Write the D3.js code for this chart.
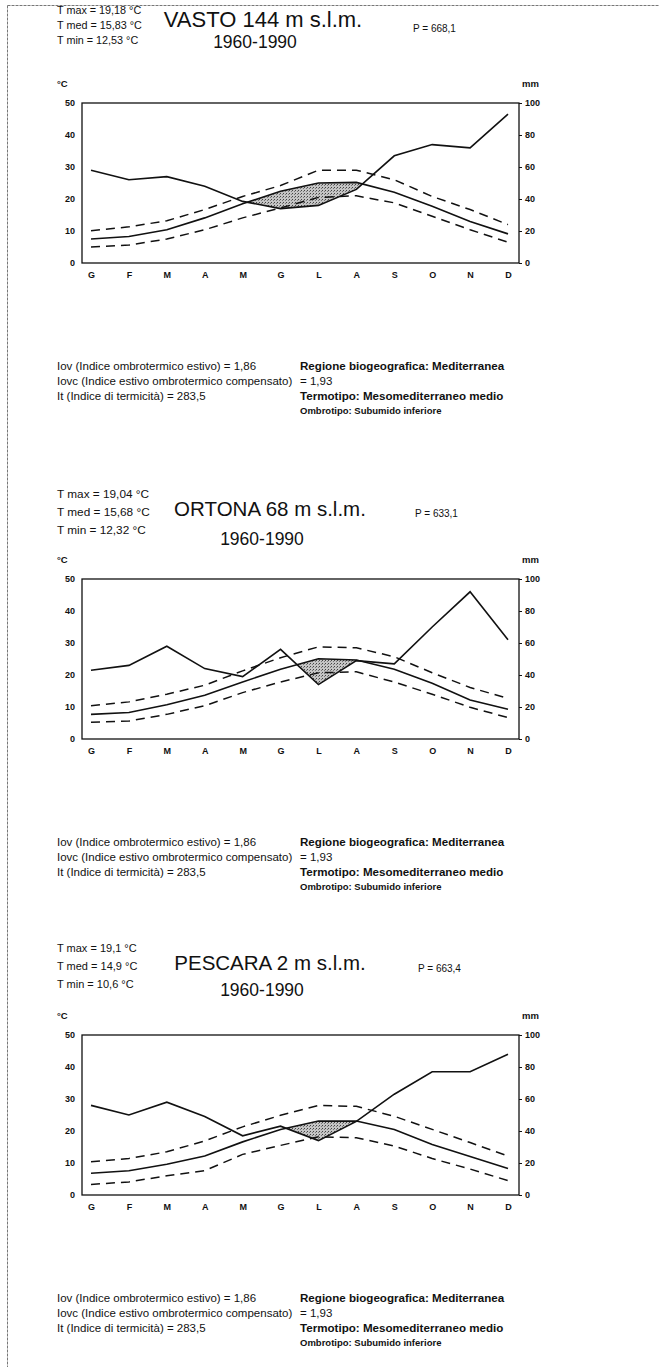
<!DOCTYPE html>
<html>
<head>
<meta charset="utf-8">
<script src="https://cdn.jsdelivr.net/npm/d3@7"></script>
<style>
  html, body { margin: 0; padding: 0; background: #fff; }
  svg { display: block; }
  text { font-family: "Liberation Sans", Arial, sans-serif; fill: #111; }
</style>
</head>
<body>
<svg id="page" width="659" height="1367"></svg>
<script>
// Month initials (Italian)
const months = ["G", "F", "M", "A", "M", "G", "L", "A", "S", "O", "N", "D"];
const tempTicks = [0, 10, 20, 30, 40, 50];
const precTicks = [0, 20, 40, 60, 80, 100];

// VASTO 144 m s.l.m. — monthly means 1960-1990
const vastoPrec = [58, 52, 54, 48, 38.5, 34, 36, 46, 67, 74, 72, 93];     // mm
const vastoTmax = [10.1, 11.3, 13.2, 16.7, 20.8, 24.2, 29, 29, 26, 20.8, 16.7, 12];
const vastoTmed = [7.5, 8.3, 10.4, 14.1, 18.5, 22.4, 25, 25.2, 22.1, 17.7, 13, 9.1];
const vastoTmin = [5, 5.6, 7.5, 10.4, 14.1, 17.2, 20.5, 21, 18.8, 14.6, 10.4, 6.5];

// ORTONA 68 m s.l.m.
const ortonaPrec = [43, 46, 58, 44, 39, 56, 34, 49, 47, 70, 92, 62];
const ortonaTmax = [10.4, 11.6, 14, 16.8, 21.3, 25.4, 28.8, 28.5, 25.7, 20.7, 16.1, 12.7];
const ortonaTmed = [7.7, 8.3, 10.7, 13.7, 17.8, 21.8, 25.1, 24.7, 21.8, 17.4, 12.2, 9.3];
const ortonaTmin = [5.2, 5.6, 7.7, 10.4, 14.5, 17.8, 20.7, 21, 17.8, 14, 9.9, 6.7];

// PESCARA 2 m s.l.m.
const pescaraPrec = [56, 50, 58, 49, 37, 43, 34, 46, 63, 77, 77, 88];
const pescaraTmax = [10.4, 11.4, 13.5, 16.9, 21.3, 24.9, 28, 27.7, 24.6, 20.5, 16.4, 12.2];
const pescaraTmed = [6.8, 7.6, 9.6, 12.2, 16.6, 20.5, 23.1, 23.1, 20.5, 15.8, 12, 8.3];
const pescaraTmin = [3.3, 4.1, 6, 7.6, 12.7, 15.5, 18.2, 17.9, 15.3, 11.4, 8.1, 4.5];

// Header and index texts
const vastoInfo = { title: "VASTO 144 m s.l.m.", tmax: "T max = 19,18 °C", tmed: "T med = 15,83 °C", tmin: "T min = 12,53 °C", p: "P = 668,1" };
const ortonaInfo = { title: "ORTONA 68 m s.l.m.", tmax: "T max = 19,04 °C", tmed: "T med = 15,68 °C", tmin: "T min = 12,32 °C", p: "P = 633,1" };
const pescaraInfo = { title: "PESCARA 2 m s.l.m.", tmax: "T max = 19,1 °C", tmed: "T med = 14,9 °C", tmin: "T min = 10,6 °C", p: "P = 663,4" };
const period = "1960-1990";
const footLeft = [
  "Iov (Indice ombrotermico estivo) = 1,86",
  "Iovc (Indice estivo ombrotermico compensato)",
  "It (Indice di termicità) = 283,5"
];
const footRight = [
  "Regione biogeografica: Mediterranea",
  "= 1,93",
  "Termotipo: Mesomediterraneo medio",
  "Ombrotipo: Subumido inferiore"
];

const svg = d3.select("#page");

// stipple pattern for the dry season
const defs = svg.append("defs");
const pat = defs.append("pattern").attr("id", "stipple")
  .attr("width", 3).attr("height", 3).attr("patternUnits", "userSpaceOnUse");
pat.append("rect").attr("width", 3).attr("height", 3).attr("fill", "#c4c4c4");
pat.append("rect").attr("x", 0).attr("y", 0).attr("width", 1).attr("height", 1).attr("fill", "#444");
pat.append("rect").attr("x", 2).attr("y", 1).attr("width", 1).attr("height", 1).attr("fill", "#777");

// page frame (left and top rule)
svg.append("line").attr("x1", 7.5).attr("x2", 659).attr("y1", 5.5).attr("y2", 5.5)
  .attr("stroke", "#777").attr("stroke-width", 1).attr("stroke-dasharray", "3,1");
svg.append("line").attr("x1", 7.5).attr("x2", 7.5).attr("y1", 5.5).attr("y2", 1367)
  .attr("stroke", "#777").attr("stroke-width", 1).attr("stroke-dasharray", "3,1");

const FW = 437, FH = 160;   // plot frame size

function drawStation(info, prec, tmax, tmed, tmin, layout) {
  const g = svg.append("g").attr("transform", `translate(82,${layout.top})`);

  const x = d3.scaleLinear().domain([0, 11]).range([9, 426]);
  const yT = d3.scaleLinear().domain([0, 50]).range([FH, 0]);
  const yP = d3.scaleLinear().domain([0, 100]).range([FH, 0]);

  // header
  const hd = svg.append("g").attr("transform", `translate(0,${layout.top})`);
  const h = layout.h1, sp = layout.sp, fs = layout.fs;
  hd.append("text").attr("x", 57).attr("y", h).attr("font-size", fs).text(info.tmax);
  hd.append("text").attr("x", 57).attr("y", h + sp).attr("font-size", fs).text(info.tmed);
  hd.append("text").attr("x", 57).attr("y", h + 2 * sp).attr("font-size", fs).text(info.tmin);
  hd.append("text").attr("x", layout.titleX).attr("y", h + layout.titleDy).attr("font-size", layout.titleFs)
    .attr("text-anchor", "middle").text(info.title);
  hd.append("text").attr("x", layout.titleX - 8).attr("y", h + layout.yearsDy).attr("font-size", 17.5)
    .attr("text-anchor", "middle").text(period);
  hd.append("text").attr("x", layout.pX).attr("y", h + layout.pDy).attr("font-size", 10).text(info.p);
  hd.append("text").attr("x", 57).attr("y", -16).attr("font-size", 9.5).attr("font-weight", "bold").text("°C");
  hd.append("text").attr("x", 522).attr("y", -16).attr("font-size", 9.5).attr("font-weight", "bold").text("mm");

  // axes
  const axL = g.append("g").call(d3.axisLeft(yT).tickValues(tempTicks).tickSize(0).tickPadding(7));
  const axR = g.append("g").attr("transform", `translate(${FW},0)`)
    .call(d3.axisRight(yP).tickValues(precTicks).tickSize(3).tickPadding(3));
  const axB = g.append("g").attr("transform", `translate(0,${FH})`)
    .call(d3.axisBottom(x).tickValues(d3.range(12)).tickFormat(i => months[i]).tickSize(0).tickPadding(9));
  [axL, axR, axB].forEach(a => {
    a.select(".domain").remove();
    a.selectAll("text").attr("font-size", 9).attr("font-weight", "bold")
      .attr("font-family", "'Liberation Sans', Arial, sans-serif").attr("fill", "#111");
    a.selectAll("line").attr("stroke", "#111");
  });

  // dry period: where mean temperature lies above precipitation (P = 2T)
  const pts = [];
  for (let i = 0; i < 12; i++) {
    const t = tmed[i], p = prec[i] / 2;
    pts.push({ i, t, p });
    if (i < 11) {
      const d0 = tmed[i] - prec[i] / 2, d1 = tmed[i + 1] - prec[i + 1] / 2;
      if (d0 * d1 < 0) {
        const f = d0 / (d0 - d1);
        const tc = tmed[i] + f * (tmed[i + 1] - tmed[i]);
        pts.push({ i: i + f, t: tc, p: tc });
      }
    }
  }
  const dry = d3.area()
    .x(d => x(d.i))
    .y0(d => yT(Math.min(d.t, d.p)))
    .y1(d => yT(d.t));
  g.append("path").datum(pts).attr("d", dry).attr("fill", "url(#stipple)").attr("stroke", "none");

  const lineT = d3.line().x((d, i) => x(i)).y(d => yT(d));
  const lineP = d3.line().x((d, i) => x(i)).y(d => yP(d));

  g.append("path").datum(tmax).attr("d", lineT).attr("fill", "none")
    .attr("stroke", "#111").attr("stroke-width", 1.5).attr("stroke-dasharray", "9,6");
  g.append("path").datum(tmin).attr("d", lineT).attr("fill", "none")
    .attr("stroke", "#111").attr("stroke-width", 1.5).attr("stroke-dasharray", "9,6");
  g.append("path").datum(tmed).attr("d", lineT).attr("fill", "none")
    .attr("stroke", "#111").attr("stroke-width", 1.6);
  g.append("path").datum(prec).attr("d", lineP).attr("fill", "none")
    .attr("stroke", "#111").attr("stroke-width", 1.6);

  // plot frame
  g.append("rect").attr("x", 0).attr("y", 0).attr("width", FW).attr("height", FH)
    .attr("fill", "none").attr("stroke", "#111").attr("stroke-width", 1.3);

  // indices
  const ft = svg.append("g").attr("transform", `translate(0,${layout.top + FH + layout.foot})`);
  footLeft.forEach((s, k) => ft.append("text").attr("x", 57).attr("y", k * 15)
    .attr("font-size", 11.5).text(s));
  footRight.forEach((s, k) => {
    ft.append("text").attr("x", 300).attr("y", k * 15 - (k === 3 ? 1 : 0))
      .attr("font-size", k === 3 ? 9.5 : (k === 1 ? 11.5 : 11.6))
      .attr("font-weight", k === 1 ? "normal" : "bold").text(s);
  });
}

drawStation(vastoInfo, vastoPrec, vastoTmax, vastoTmed, vastoTmin,
  { top: 103, h1: -89, sp: 15, fs: 10.8, titleX: 263, titleFs: 22, titleDy: 13, yearsDy: 34, pX: 413, pDy: 18, foot: 107 });
drawStation(ortonaInfo, ortonaPrec, ortonaTmax, ortonaTmed, ortonaTmin,
  { top: 579, h1: -81, sp: 18, fs: 11.8, titleX: 270, titleFs: 20.5, titleDy: 18, yearsDy: 47, pX: 415, pDy: 19, foot: 107 });
drawStation(pescaraInfo, pescaraPrec, pescaraTmax, pescaraTmed, pescaraTmin,
  { top: 1035, h1: -83, sp: 18, fs: 11, titleX: 270, titleFs: 20.5, titleDy: 18, yearsDy: 44, pX: 418, pDy: 20, foot: 107 });
</script>
</body>
</html>
